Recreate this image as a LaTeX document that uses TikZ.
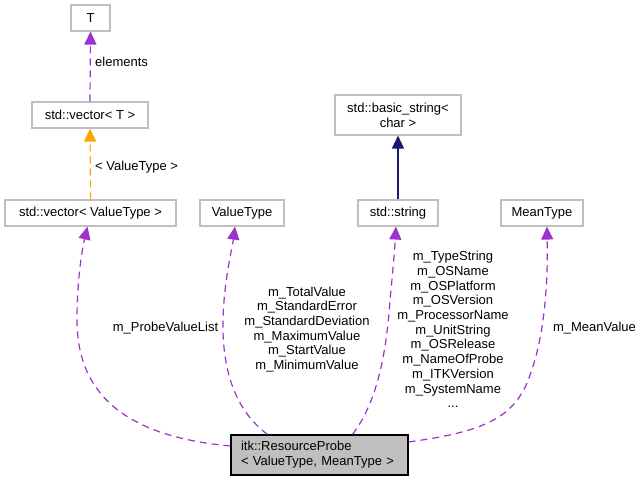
\documentclass[tikz,border=0pt]{standalone}
\usepackage{fontspec}
\setmainfont{Liberation Sans}
\usetikzlibrary{arrows.meta,calc}
\definecolor{boxgray}{HTML}{BFBFBF}
\definecolor{edgepurple}{HTML}{9A32CD}
\definecolor{edgeorange}{HTML}{FFA500}
\definecolor{edgenavy}{HTML}{191970}
\begin{document}
\begin{tikzpicture}[x=1pt,y=-1pt,
  every node/.style={font=\fontsize{13}{15}\selectfont, inner sep=0pt},
  cls/.style={draw=boxgray, line width=1.1pt, fill=white, minimum height=26pt, align=center},
  mainbox/.style={draw=black, line width=1.1pt, fill=boxgray, minimum height=40pt, text width=157pt, inner xsep=10pt, align=left},
  lbl/.style={align=center, font=\fontsize{13}{14.7}\selectfont},
  tip/.style={-{Triangle[length=13pt,width=12pt]}},
  useedge/.style={tip, draw=edgepurple, line width=1.2pt, dash pattern=on 7pt off 5pt},
  tmpledge/.style={tip, draw=edgeorange, line width=1.2pt, dash pattern=on 7pt off 5pt},
  inhedge/.style={tip, draw=edgenavy, line width=1.2pt}
]
\useasboundingbox (0,0) rectangle (643,481);

% nodes
\node[cls, minimum width=39pt] (T) at (90.5,18) {T};
\node[cls, minimum width=116pt] (vecT) at (90,115) {std::vector< T >};
\node[cls, minimum width=171pt] (vecVT) at (90.5,213) {std::vector< ValueType >};
\node[cls, minimum width=84pt] (VT) at (242,213) {ValueType};
\node[cls, minimum width=126pt, minimum height=40pt] (bstr) at (398,115) {std::basic\_string<\\char >};
\node[cls, minimum width=80pt] (str) at (398,213) {std::string};
\node[cls, minimum width=82pt] (MT) at (542,213) {MeanType};
\node[mainbox] (rp) at (319.5,455) {itk::ResourceProbe\\< ValueType, MeanType >};

% edges
\draw[useedge] (vecT.north) -- (T.south);
\node[anchor=west] (lelem) at (95,62) {elements};

\draw[tmpledge] (vecVT.north) -- (vecT.south);
\node[anchor=west] (ltmpl) at (95,167) {< ValueType >};

\draw[inhedge] (str.north) -- (bstr.south);

\draw[useedge] ($(rp.west)+(0,-9)$) .. controls (120,436) and (77,390) .. (77,320)
  .. controls (77,280) and (82,250) .. ($(vecVT.south)+(-3,0)$);
\node[lbl] (lpvl) at (165.5,328) {m\_ProbeValueList};

\draw[useedge] ($(rp.north west)+(37,0)$) .. controls (235,410) and (222,370) .. (223,320)
  .. controls (224,280) and (232,250) .. ($(VT.south)+(-7,0)$);
\node[lbl] (lvt) at (307,329.5) {m\_TotalValue\\m\_StandardError\\m\_StandardDeviation\\m\_MaximumValue\\m\_StartValue\\m\_MinimumValue};

\draw[useedge] ($(rp.north west)+(122,0)$) .. controls (375,405) and (386,360) .. (390,300)
  .. controls (393,270) and (395,245) .. ($(str.south)+(-2,0)$);
\node[lbl] (lstr) at (453,329.5) {m\_TypeString\\m\_OSName\\m\_OSPlatform\\m\_OSVersion\\m\_ProcessorName\\m\_UnitString\\m\_OSRelease\\m\_NameOfProbe\\m\_ITKVersion\\m\_SystemName\\...};

\draw[useedge] ($(rp.east)+(0,-13)$) .. controls (480,432) and (515,420) .. (530,375)
  .. controls (545,335) and (548,280) .. ($(MT.south)+(5,0)$);
\node[lbl] (lmv) at (594.5,328) {m\_MeanValue};
\end{tikzpicture}
\end{document}
